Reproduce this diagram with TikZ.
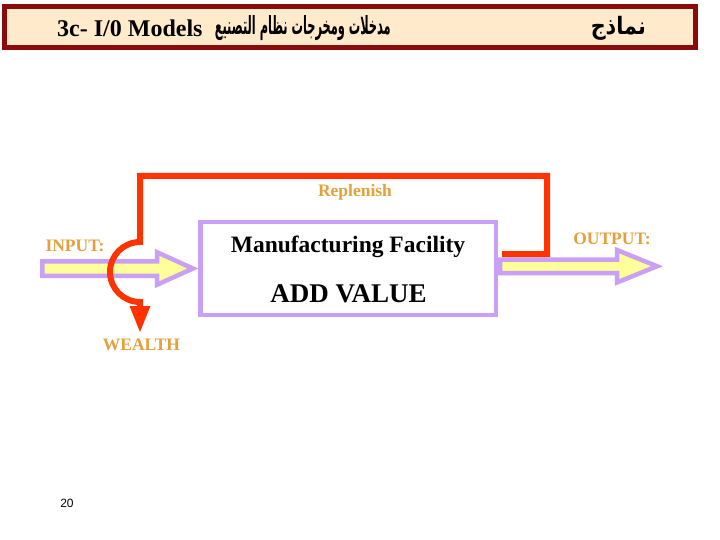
\documentclass[tikz,border=0pt]{standalone}
\usepackage{graphicx}
\usepackage{fontspec}
\setmainfont{Liberation Serif}
\newfontfamily\arabicfont[Script=Arabic]{DejaVu Sans}
\newfontfamily\pagefont{Liberation Sans}
\TeXXeTstate=1
\usetikzlibrary{arrows.meta,calc}
\definecolor{titlered}{HTML}{8B0A0A}
\definecolor{titlecream}{HTML}{FFEBCC}
\definecolor{lavender}{HTML}{C9A0F5}
\definecolor{paleyellow}{HTML}{FFFF99}
\definecolor{loopred}{HTML}{FF3300}
\definecolor{goldlabel}{HTML}{E3A03C}

\begin{document}
\begin{tikzpicture}[x=1pt,y=-1pt,
    flowlabel/.style={goldlabel,font=\fontsize{17.5}{19}\selectfont\bfseries,inner sep=0pt,anchor=base},
    fatarrow/.style={draw=lavender,fill=paleyellow,line width=4.5pt,line join=miter},
    redloop/.style={loopred,line width=6pt,line join=miter}]
    \useasboundingbox (0,0) rectangle (720,540);
    % title bar
    \draw[titlered,fill=titlecream,line width=5pt] (4.5,6.5) rectangle (695.5,47.5);
    \node[anchor=base west,inner sep=0pt,font=\fontsize{24}{26}\selectfont\bfseries] (title) at (57,37) {3c- I/0 Models};
    \node[anchor=base east,inner sep=0pt,font=\fontsize{25}{28}\selectfont\bfseries] (titlear) at (391,35)
      {\resizebox{176pt}{\height}{\arabicfont\beginR مدخلات ومخرجات نظام التصنيع\endR}};
    \node[anchor=base east,inner sep=0pt,font=\fontsize{24}{27}\selectfont\bfseries] (titlemodels) at (646,35)
      {\resizebox{55pt}{\height}{\arabicfont\beginR نماذج\endR}};
    % fat arrows in and out
    \draw[fatarrow] (42.25,261.25) -- (157,261.25) -- (157,252.25) -- (193,268.5)
      -- (157,284.75) -- (157,275.75) -- (42.25,275.75) -- cycle;
    \draw[fatarrow] (500,259.5) -- (617,259.5) -- (617,250) -- (657,266.25)
      -- (617,282.5) -- (617,273) -- (500,273) -- cycle;
    % the facility
    \node[draw=lavender,line width=4.5pt,minimum width=295.5pt,minimum height=92.5pt,inner sep=0pt] (plant) at (348,268.5) {};
    \node[anchor=base,inner sep=0pt,font=\fontsize{23.5}{26}\selectfont\bfseries] (plantname) at (348,252) {Manufacturing Facility};
    \node[anchor=base,inner sep=0pt,font=\fontsize{27}{30}\selectfont\bfseries] (addvalue) at (348.5,302) {ADD VALUE};
    % labels
    \node[flowlabel] (replenish) at (355,196.5) {Replenish};
    \node[flowlabel] (inlabel) at (75,251.5) {INPUT:};
    \node[flowlabel] (outlabel) at (612,244.5) {OUTPUT:};
    \node[flowlabel] (wealth) at (141.5,350.5) {WEALTH};
    \node[font=\pagefont\fontsize{12}{14}\selectfont] (pagenum) at (67,503) {20};
    % replenish loop, wealth taken out
    \coordinate (loopstart) at ($(plant.east)+(4,-14.5)$);
    \coordinate (wealthtip) at (140,333);
    \draw[redloop,-{Triangle[length=27pt,width=19pt]}] (loopstart) -- ++(45,0) |- (140,176) -- (140,242)
      arc[start angle=270,end angle=90,radius=30] -- (wealthtip);
\end{tikzpicture}
\end{document}
